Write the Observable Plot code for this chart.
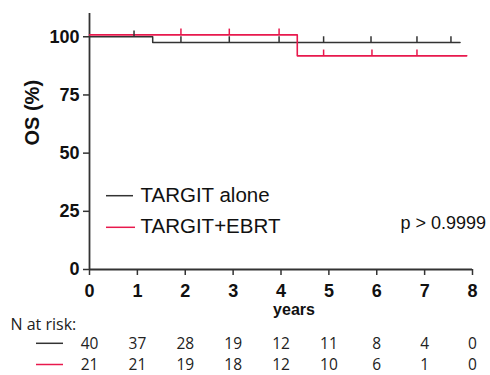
<!DOCTYPE html>
<html>
<head>
<meta charset="utf-8">
<script src="https://cdn.jsdelivr.net/npm/d3@7"></script>
<script src="https://cdn.jsdelivr.net/npm/@observablehq/plot@0.6"></script>
<style>
  html, body { margin: 0; padding: 0; background: white; }
  svg { display: block; }
</style>
</head>
<body>
<div id="chart"></div>
<script>
// ---- Data ----
const xTicks = [0, 1, 2, 3, 4, 5, 6, 7, 8];
const yTicks = [0, 25, 50, 75, 100];

const aloneT = [0, 1.32, 7.74];
const aloneS = [100, 97.5, 97.5];
const ebrtT = [0, 4.34, 7.88];
const ebrtS = [100.8, 91.8, 91.8];

const aloneCensorT = [0.93, 1.91, 2.92, 3.96, 4.89, 5.88, 6.84, 7.55];
const aloneCensorS = [100, 97.5, 97.5, 97.5, 97.5, 97.5, 97.5, 97.5];
const ebrtCensorT = [1.91, 2.92, 3.96, 4.89, 5.90, 6.84];
const ebrtCensorS = [100.8, 100.8, 100.8, 91.8, 91.8, 91.8];

const riskT = [0, 1, 2, 3, 4, 5, 6, 7, 8];
const riskAlone = [40, 37, 28, 19, 12, 11, 8, 4, 0];
const riskEbrt = [21, 21, 19, 18, 12, 10, 6, 1, 0];

const seriesNames = ["TARGIT alone", "TARGIT+EBRT"];
const pText = "p > 0.9999";

// ---- Styles ----
const blackC = "#333333";
const redC = "#e8194d";
const axisC = "#333333";
const censorLen = 2.5;

const toRows = (T, S) => T.map((t, i) => ({t, s: S[i]}));
const alone = toRows(aloneT, aloneS);
const ebrt = toRows(ebrtT, ebrtS);
const aloneC = toRows(aloneCensorT, aloneCensorS);
const ebrtCen = toRows(ebrtCensorT, ebrtCensorS);
const rA = riskT.map((t, i) => ({t, n: riskAlone[i]}));
const rE = riskT.map((t, i) => ({t, n: riskEbrt[i]}));

const swatches = () => {
  const g = d3.create("svg:g");
  const seg = (x1, x2, y, c) => g.append("line").attr("x1", x1).attr("x2", x2).attr("y1", y).attr("y2", y)
    .attr("stroke", c).attr("stroke-width", 1.5);
  seg(106, 133, 195.7, blackC);
  seg(106, 135, 227.3, redC);
  seg(36, 63, 343.3, blackC);
  seg(36, 63, 364.5, redC);
  return g.node();
};

const riskFont = {lineAnchor: "middle", fontSize: 15.5, fill: "#222", fontFamily: "'Open Sans', sans-serif"};

const chart = Plot.plot({
  width: 490,
  height: 375,
  marginLeft: 89,
  marginRight: 18,
  marginTop: 13,
  marginBottom: 106,
  x: {domain: [0, 8]},
  y: {domain: [0, 110]},
  style: {fontFamily: "'Liberation Sans', Arial, sans-serif", background: "white", overflow: "visible", color: "#111"},
  marks: [
    Plot.axisX({ticks: xTicks, tickSize: 6, tickPadding: 9, fontSize: 18, fontWeight: "bold", stroke: axisC, strokeWidth: 1.5, fill: "#111", label: null, tickFormat: d => String(d)}),
    Plot.axisY({ticks: yTicks, tickSize: 6, tickPadding: 4, fontSize: 18, fontWeight: "bold", stroke: axisC, strokeWidth: 1.5, fill: "#111", label: null, tickFormat: d => String(d)}),
    Plot.ruleX([0], {stroke: axisC, strokeWidth: 1.8}),
    Plot.ruleY([0], {stroke: axisC, strokeWidth: 1.8}),
    Plot.line(alone, {x: "t", y: "s", curve: "step-after", stroke: blackC, strokeWidth: 1.5}),
    Plot.line(ebrt, {x: "t", y: "s", curve: "step-after", stroke: redC, strokeWidth: 1.6}),
    Plot.ruleX(aloneC, {x: "t", y1: "s", y2: d => d.s + censorLen, stroke: blackC, strokeWidth: 1.5}),
    Plot.ruleX(ebrtCen, {x: "t", y1: "s", y2: d => d.s + censorLen, stroke: redC, strokeWidth: 1.5}),
    // axis titles
    Plot.text(["OS (%)"], {frameAnchor: "left", dx: -57, dy: 4, rotate: -90, fontSize: 20, fontWeight: "bold", fill: "#111"}),
    Plot.text(["years"], {frameAnchor: "bottom", dx: 13, dy: 40, fontSize: 16, fontWeight: "bold", fill: "#111", lineAnchor: "middle"}),
    // legend
    Plot.text([seriesNames[0]], {frameAnchor: "top-left", dx: 51, dy: 182, textAnchor: "start", lineAnchor: "middle", fontSize: 20.5, fill: "#111"}),
    Plot.text([seriesNames[1]], {frameAnchor: "top-left", dx: 51, dy: 213, textAnchor: "start", lineAnchor: "middle", fontSize: 20.5, fill: "#111"}),
    Plot.text([pText], {frameAnchor: "top-left", dx: 311, dy: 210, textAnchor: "start", lineAnchor: "middle", fontSize: 18, fill: "#111"}),
    // N at risk
    Plot.text(["N at risk:"], {frameAnchor: "bottom-left", dx: -79, dy: 55, textAnchor: "start", ...riskFont, fontSize: 16}),
    Plot.text(rA, {x: "t", text: "n", frameAnchor: "bottom", dy: 75, ...riskFont}),
    Plot.text(rE, {x: "t", text: "n", frameAnchor: "bottom", dy: 96, ...riskFont}),
    swatches
  ]
});
document.getElementById("chart").appendChild(chart);
</script>
</body>
</html>
